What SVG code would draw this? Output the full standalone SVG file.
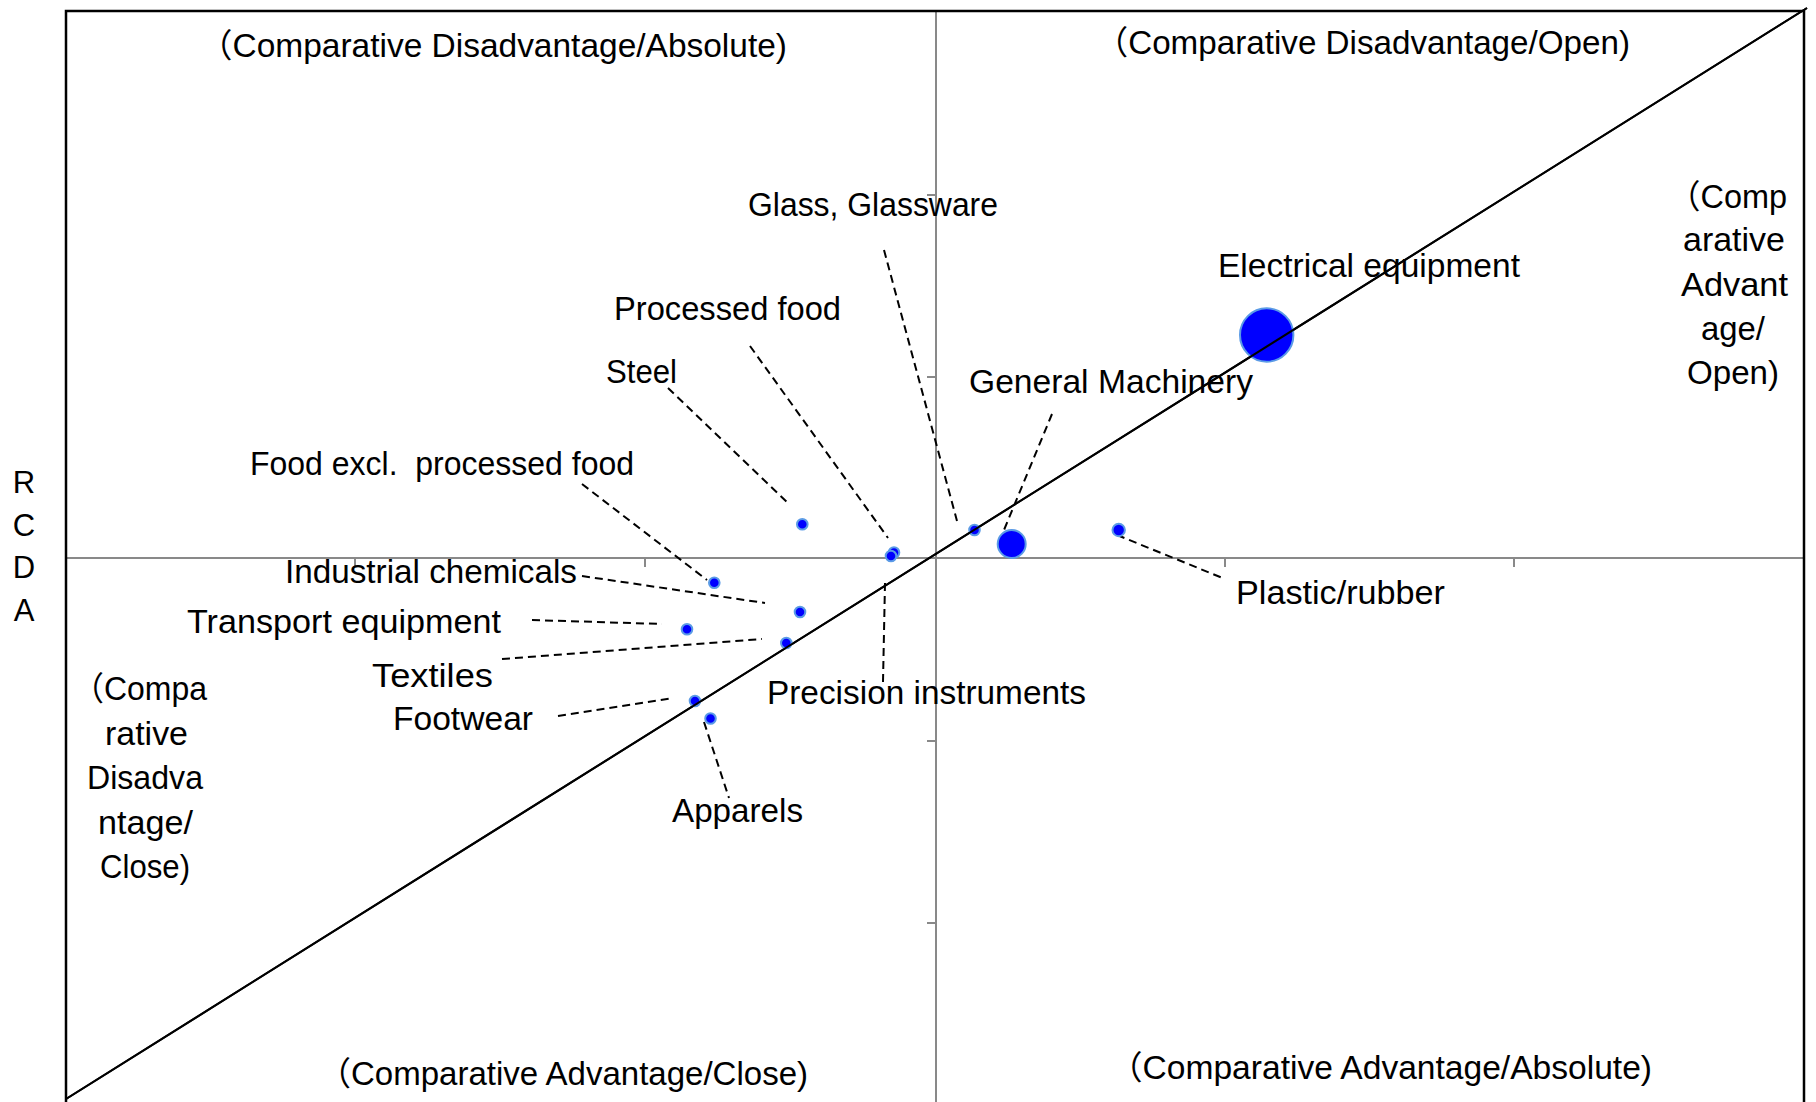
<svg xmlns="http://www.w3.org/2000/svg" width="1816" height="1102" viewBox="0 0 1816 1102">
<style>
.lbl{font-family:"Liberation Sans Narrow","Liberation Sans","Noto Sans CJK JP",sans-serif;font-size:33px;fill:#000}
.ax{stroke:#898989;stroke-width:2;fill:none}
.frame{stroke:#000;stroke-width:2.5;fill:none}
.diag{stroke:#000;stroke-width:2;fill:none}
.lead{stroke:#000;stroke-width:2;stroke-dasharray:8 5;fill:none}
.dot{fill:#0000ff;stroke:#5b9be6;stroke-width:2}
.ylab{font-family:"Liberation Sans",Arial,sans-serif;font-size:31px;fill:#000;text-anchor:middle}
</style>
<rect x="0" y="0" width="1816" height="1102" fill="#fff"/>
<g id="axes">
<path class="ax" d="M66 558H1804M936 11V1102"/>
<path class="ax" d="M355 558v9M645 558v9M1225 558v9M1514 558v9M1804 558v9M927 11h9M927 195h9M927 377h9M927 741h9M927 923h9"/>
<path class="frame" d="M66 1102V11H1804V1102"/>
<line class="diag" x1="66" y1="1099" x2="1807" y2="8"/>
</g>
<g id="y-axis-title">
<text class="ylab" x="24" y="493">R</text>
<text class="ylab" x="24" y="536">C</text>
<text class="ylab" x="24" y="578">D</text>
<text class="ylab" x="24" y="621">A</text>
</g>
<g id="quadrant-labels">
<text class="lbl" x="199" y="57" textLength="588" lengthAdjust="spacingAndGlyphs">（Comparative Disadvantage/Absolute)</text>
<text class="lbl" x="1095" y="54" textLength="535" lengthAdjust="spacingAndGlyphs">（Comparative Disadvantage/Open)</text>
<text class="lbl" x="318" y="1085" textLength="490" lengthAdjust="spacingAndGlyphs">（Comparative Advantage/Close)</text>
<text class="lbl" x="1109" y="1079" textLength="543" lengthAdjust="spacingAndGlyphs">（Comparative Advantage/Absolute)</text>
<text class="lbl" x="1668" y="208" textLength="119" lengthAdjust="spacingAndGlyphs">（Comp</text>
<text class="lbl" x="1683" y="251" textLength="102" lengthAdjust="spacingAndGlyphs">arative</text>
<text class="lbl" x="1681" y="296" textLength="107" lengthAdjust="spacingAndGlyphs">Advant</text>
<text class="lbl" x="1701" y="340" textLength="64" lengthAdjust="spacingAndGlyphs">age/</text>
<text class="lbl" x="1687" y="384" textLength="92" lengthAdjust="spacingAndGlyphs">Open)</text>
<text class="lbl" x="72" y="700" textLength="135" lengthAdjust="spacingAndGlyphs">（Compa</text>
<text class="lbl" x="105" y="745" textLength="83" lengthAdjust="spacingAndGlyphs">rative</text>
<text class="lbl" x="87" y="789" textLength="116" lengthAdjust="spacingAndGlyphs">Disadva</text>
<text class="lbl" x="98" y="834" textLength="95" lengthAdjust="spacingAndGlyphs">ntage/</text>
<text class="lbl" x="100" y="878" textLength="90" lengthAdjust="spacingAndGlyphs">Close)</text>
</g>
<g id="connectors">
<line class="lead" x1="884" y1="250" x2="957" y2="521"/>
<line class="lead" x1="750" y1="346" x2="888" y2="538"/>
<line class="lead" x1="668" y1="388" x2="790" y2="505"/>
<line class="lead" x1="582" y1="484" x2="707" y2="580"/>
<line class="lead" x1="582" y1="576" x2="765" y2="603"/>
<line class="lead" x1="532" y1="620" x2="662" y2="624"/>
<line class="lead" x1="502" y1="659" x2="762" y2="639"/>
<line class="lead" x1="558" y1="716" x2="673" y2="698"/>
<line class="lead" x1="704" y1="722" x2="729" y2="798"/>
<line class="lead" x1="885" y1="583" x2="883" y2="682"/>
<line class="lead" x1="1052" y1="414" x2="1004" y2="530"/>
<line class="lead" x1="1117" y1="535" x2="1225" y2="579"/>
</g>
<g id="node-glass">
<circle class="dot" cx="974.5" cy="530" r="5.3"/>
<text class="lbl" x="748" y="216" textLength="250" lengthAdjust="spacingAndGlyphs">Glass, Glassware</text>
</g>
<g id="node-processed-food">
<circle class="dot" cx="894" cy="552.5" r="5.3"/>
<text class="lbl" x="614" y="320" textLength="227" lengthAdjust="spacingAndGlyphs">Processed food</text>
</g>
<g id="node-precision">
<circle class="dot" cx="891" cy="556" r="5.3"/>
<text class="lbl" x="767" y="704" textLength="319" lengthAdjust="spacingAndGlyphs">Precision instruments</text>
</g>
<g id="node-steel">
<circle class="dot" cx="802.3" cy="524.3" r="5.3"/>
<text class="lbl" x="606" y="383" textLength="71" lengthAdjust="spacingAndGlyphs">Steel</text>
</g>
<g id="node-food-excl">
<circle class="dot" cx="714.3" cy="582.7" r="5.3"/>
<text class="lbl" x="250" y="475" textLength="384" lengthAdjust="spacingAndGlyphs" style="white-space:pre">Food excl.  processed food</text>
</g>
<g id="node-industrial-chemicals">
<circle class="dot" cx="800" cy="612" r="5.3"/>
<text class="lbl" x="285" y="583" textLength="292" lengthAdjust="spacingAndGlyphs">Industrial chemicals</text>
</g>
<g id="node-transport">
<circle class="dot" cx="687" cy="629.3" r="5.3"/>
<text class="lbl" x="187" y="633" textLength="314" lengthAdjust="spacingAndGlyphs">Transport equipment</text>
</g>
<g id="node-textiles">
<circle class="dot" cx="786.3" cy="643" r="5.3"/>
<text class="lbl" x="372" y="687" textLength="121" lengthAdjust="spacingAndGlyphs">Textiles</text>
</g>
<g id="node-footwear">
<circle class="dot" cx="695" cy="701" r="5.3"/>
<text class="lbl" x="393" y="730" textLength="140" lengthAdjust="spacingAndGlyphs">Footwear</text>
</g>
<g id="node-apparels">
<circle class="dot" cx="710.5" cy="718.5" r="5.3"/>
<text class="lbl" x="672" y="822" textLength="131" lengthAdjust="spacingAndGlyphs">Apparels</text>
</g>
<g id="node-general-machinery">
<circle class="dot" cx="1011.7" cy="544" r="14"/>
<text class="lbl" x="969" y="393" textLength="284" lengthAdjust="spacingAndGlyphs">General Machinery</text>
</g>
<g id="node-plastic-rubber">
<circle class="dot" cx="1118.7" cy="530" r="6.2"/>
<text class="lbl" x="1236" y="603.5" textLength="209" lengthAdjust="spacingAndGlyphs">Plastic/rubber</text>
</g>
<g id="node-electrical">
<circle class="dot" cx="1266.7" cy="335" r="26.7"/>
<text class="lbl" x="1218" y="277" textLength="302" lengthAdjust="spacingAndGlyphs">Electrical equipment</text>
</g>
<line class="diag" x1="66" y1="1099" x2="1807" y2="8"/>
</svg>
